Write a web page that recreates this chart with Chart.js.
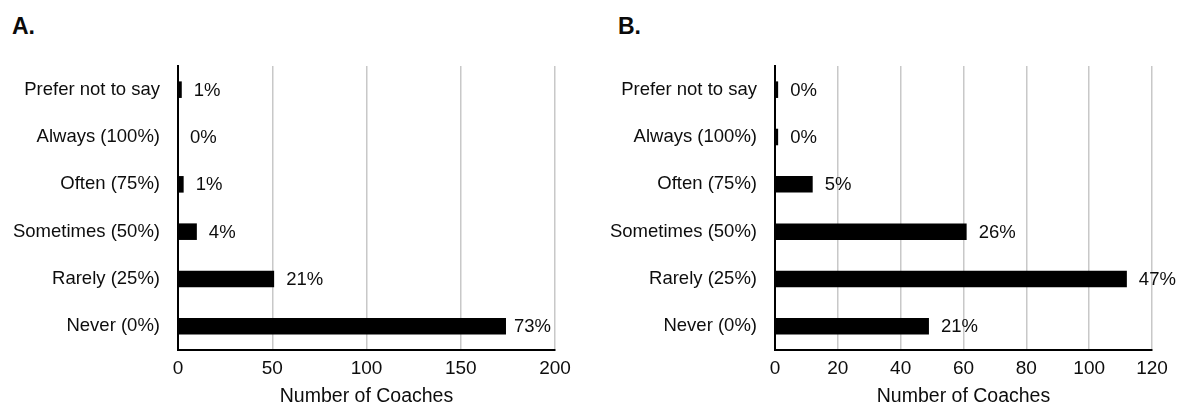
<!DOCTYPE html>
<html>
<head>
<meta charset="utf-8">
<script src="https://cdn.jsdelivr.net/npm/chart.js@4/dist/chart.umd.min.js"></script>
<style>
  html, body { margin: 0; padding: 0; background: #fff; }
  body { width: 1177px; height: 404px; position: relative; overflow: hidden; font-family: "Liberation Sans", Arial, sans-serif; }
  .panel-title { position: absolute; top: 15px; font: bold 23px/1 "Liberation Sans", Arial, sans-serif; color: #0a0a0a; }
  .box { position: absolute; top: 0; height: 404px; }
</style>
</head>
<body>
<div class="panel-title" style="left:12px">A.</div>
<div class="panel-title" style="left:618px">B.</div>
<div class="box" style="left:0; width:588px"><canvas id="chartA"></canvas></div>
<div class="box" style="left:588px; width:589px"><canvas id="chartB"></canvas></div>
<script>
// ---- Data ----
const categories = ["Prefer not to say", "Always (100%)", "Often (75%)", "Sometimes (50%)", "Rarely (25%)", "Never (0%)"];
const valuesA = [2, 0, 3, 10, 51, 174];
const pctLabelsA = ["1%", "0%", "1%", "4%", "21%", "73%"];
const valuesB = [1, 1, 12, 61, 112, 49];
const pctLabelsB = ["0%", "0%", "5%", "26%", "47%", "21%"];
const xTicksA = [0, 50, 100, 150, 200];
const xTicksB = [0, 20, 40, 60, 80, 100, 120];
const axisTitle = "Number of Coaches";

const FONT = '"Liberation Sans", Arial, sans-serif';
const TEXT = '#0d0d0d';

const pctPlugin = {
  id: 'pctLabels',
  afterDatasetsDraw(chart, args, opts) {
    const ctx = chart.ctx;
    const meta = chart.getDatasetMeta(0);
    ctx.save();
    ctx.font = '18.5px ' + FONT;
    ctx.fillStyle = TEXT;
    ctx.textBaseline = 'middle';
    ctx.textAlign = 'left';
    meta.data.forEach((bar, i) => {
      const txt = opts.labels[i];
      const w = ctx.measureText(txt).width;
      let x = bar.x + 12;
      if (opts.clamp && x + w > chart.chartArea.right - 4) x = chart.chartArea.right - 4 - w;
      ctx.fillText(txt, x, bar.y + 1);
    });
    ctx.restore();
  }
};

function makeChart(id, values, labels, ticks, plotLeft, padRight, clamp) {
  const maxV = ticks[ticks.length - 1];
  const step = ticks[1] - ticks[0];
  return new Chart(document.getElementById(id), {
    type: 'bar',
    data: {
      labels: categories,
      datasets: [{
        data: values,
        backgroundColor: '#000000',
        borderWidth: 0,
        categoryPercentage: 1.0,
        barPercentage: 0.35
      }]
    },
    options: {
      indexAxis: 'y',
      responsive: true,
      maintainAspectRatio: false,
      animation: false,
      devicePixelRatio: 1,
      layout: { padding: { top: 66, right: padRight, bottom: 0, left: 0 } },
      plugins: {
        legend: { display: false },
        tooltip: { enabled: false },
        title: { display: false },
        pctLabels: { labels: labels, clamp: clamp }
      },
      scales: {
        x: {
          min: 0, max: maxV,
          afterBuildTicks: (s) => { s.ticks = ticks.map(v => ({ value: v })); },
          ticks: { stepSize: step, padding: 7, color: TEXT, font: { family: FONT, size: 19 } },
          grid: { color: '#c8c8c8', lineWidth: 1.5, drawTicks: false },
          border: { display: true, color: '#000000', width: 2 },
          title: { display: true, text: axisTitle, color: TEXT, font: { family: FONT, size: 19.5 }, padding: { top: 0, bottom: -4 } },
          afterFit: (s) => { s.height = 54; }
        },
        y: {
          ticks: { padding: 18, color: TEXT, font: { family: FONT, size: 18.5 } },
          grid: { display: false, drawTicks: false },
          border: { display: true, color: '#000000', width: 2 },
          afterFit: (s) => { s.width = plotLeft; }
        }
      }
    },
    plugins: [pctPlugin]
  });
}

makeChart('chartA', valuesA, pctLabelsA, xTicksA, 178, 33, true);
makeChart('chartB', valuesB, pctLabelsB, xTicksB, 187, 25, false);
</script>
</body>
</html>
